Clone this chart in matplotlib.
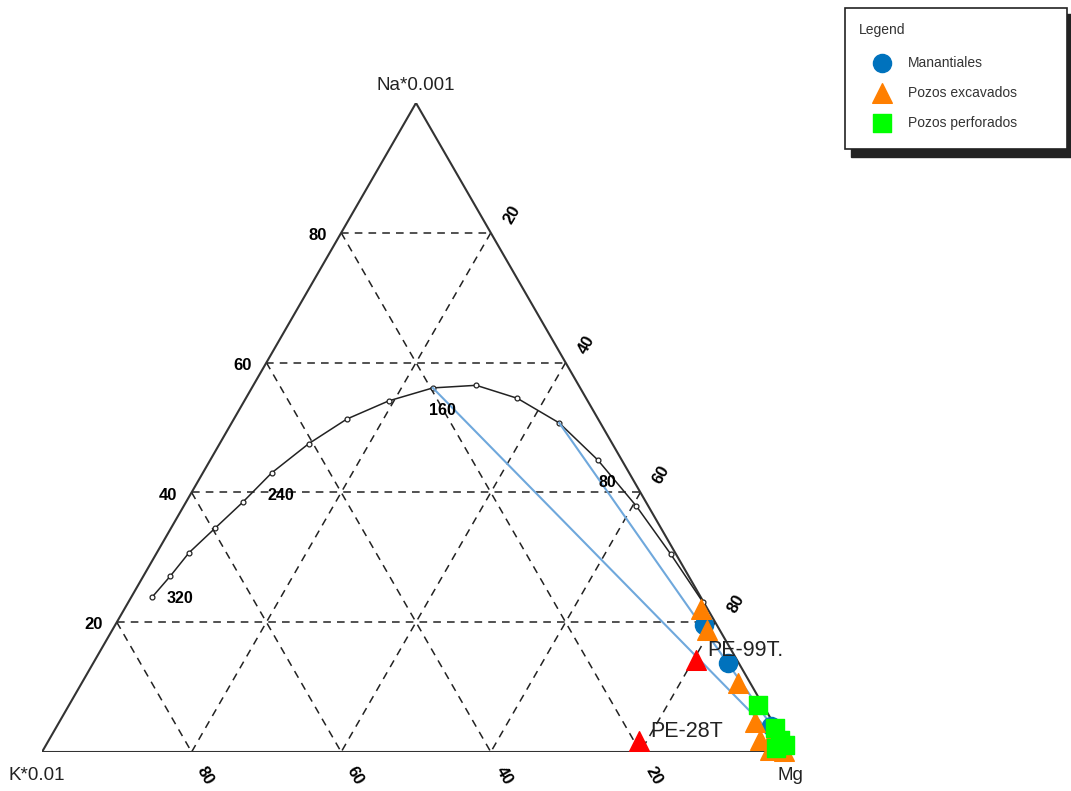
import numpy as np
import matplotlib.pyplot as plt
from matplotlib.patches import Rectangle

plt.rcParams['font.family'] = ['Liberation Sans', 'DejaVu Sans']

# ternary values in % : Na*0.001, K*0.01, sqrt(Mg)
# full equilibrium curve, one point every 20 C
curve_temp = [340, 320, 300, 280, 260, 240, 220, 200, 180, 160, 140, 120, 100, 80, 60, 40, 20]
curve_na = [23.9, 27.1, 30.7, 34.5, 38.5, 43.0, 47.5, 51.3, 54.1, 56.1, 56.5, 54.5, 50.7, 45.0, 37.9, 30.5, 23.1]
curve_k = [73.3, 69.3, 65.0, 59.6, 53.9, 47.8, 40.6, 33.6, 26.6, 19.7, 13.7, 9.2, 5.5, 3.2, 1.6, 0.7, 0.1]
curve_mg = [2.8, 3.6, 4.3, 5.9, 7.6, 9.2, 11.9, 15.1, 19.3, 24.2, 29.8, 36.3, 43.8, 51.8, 60.5, 68.8, 76.8]
temp_labels = [320, 240, 160, 80]
mix_from = [160, 100]   # lines drawn from the curve to the Mg corner

# samples
man_na = [19.6, 13.7, 4.0, 1.5]
man_k = [1.7, 1.4, 0.5, 0.3]
man_mg = [78.7, 84.9, 95.5, 98.2]

exc_na = [22.0, 18.8, 10.6, 4.6, 2.6, 1.9, 0.3, 0.2]
exc_k = [0.9, 1.7, 1.6, 2.4, 1.0, 3.1, 2.5, 0.7]
exc_mg = [77.1, 79.5, 87.8, 93.0, 96.4, 95.0, 97.2, 99.1]

perf_na = [7.2, 3.7, 1.9, 0.6, 1.1]
perf_k = [0.7, 0.2, 0.4, 1.6, 0.1]
perf_mg = [92.1, 96.1, 97.7, 97.8, 98.8]

red_names = ['PE-99T.', 'PE-28T']
red_na = [14.2, 1.7]
red_k = [5.5, 19.3]
red_mg = [80.3, 79.0]

grid_vals = [20, 40, 60, 80]

H = np.sqrt(3) / 2


def to_xy(na, k, mg):
    na = np.asarray(na, float)
    k = np.asarray(k, float)
    mg = np.asarray(mg, float)
    tot = na + k + mg
    return (mg + na / 2) / tot, na * H / tot


fig = plt.figure(figsize=(10.71, 7.91), dpi=100)
W, Hpx = 1071, 791
ax = fig.add_axes([42 / W, 39 / Hpx, 748 / W, 649 / Hpx])
ax.set_xlim(0, 1)
ax.set_ylim(0, H)
ax.axis('off')

# dashed grid
dash = dict(color='#222222', lw=1.1, ls=(0, (5, 4)), zorder=1)
for v in grid_vals:
    w = 100 - v
    for p, q in [((v, w, 0), (v, 0, w)),      # Na const
                 ((w, v, 0), (0, v, w)),      # K const
                 ((w, 0, v), (0, w, v))]:     # Mg const
        xs, ys = to_xy([p[0], q[0]], [p[1], q[1]], [p[2], q[2]])
        ax.plot(xs, ys, **dash)

# triangle outline
tx, ty = to_xy([100, 0, 0, 100], [0, 100, 0, 0], [0, 0, 100, 0])
ax.plot(tx, ty, color='#333333', lw=1.5, zorder=2)

# tick labels
tick_kw = dict(fontsize=12, fontweight='bold', ha='center', va='center',
               textcoords='offset points', annotation_clip=False)
for v in grid_vals:
    ax.annotate(str(v), to_xy(v, 100 - v, 0), xytext=(-17, -2), **tick_kw)
    ax.annotate(str(v), to_xy(100 - v, 0, v), xytext=(15, 13), rotation=60, **tick_kw)
    ax.annotate(str(v), to_xy(0, v, 100 - v), xytext=(10, -17), rotation=-60, **tick_kw)

title_kw = dict(textcoords='offset points', ha='center', va='center', fontsize=13.5,
                color='#222222', annotation_clip=False)
ax.annotate('Na*0.001', to_xy(100, 0, 0), xytext=(0, 12.5), **title_kw)
ax.annotate('K*0.01', to_xy(0, 100, 0), xytext=(-4, -17), **title_kw)
ax.annotate('Mg', to_xy(0, 0, 100), xytext=(0, -17), **title_kw)

# equilibrium curve
cx, cy = to_xy(curve_na, curve_k, curve_mg)
ax.plot(cx, cy, color='#222222', lw=1.1, marker='o', ms=3.5, mfc='white', mec='#222222',
        mew=0.9, zorder=3)
for t in temp_labels:
    i = curve_temp.index(t)
    ax.annotate(str(t), (cx[i], cy[i]), xytext=(7, -16), textcoords='offset points',
                ha='center', va='center', fontsize=11.5, fontweight='bold', zorder=6)

# lines to the Mg corner
for t in mix_from:
    i = curve_temp.index(t)
    ax.plot([cx[i], 1.0], [cy[i], 0.0], color='#6fa8dc', lw=1.5, zorder=4)

# samples
mx, my = to_xy(man_na, man_k, man_mg)
ax.scatter(mx, my, s=170, marker='o', color='#0072bd', zorder=5, clip_on=False)
ex, ey = to_xy(exc_na, exc_k, exc_mg)
ax.scatter(ex, ey, s=200, marker='^', color='#ff7f00', zorder=5, clip_on=False)
px_, py_ = to_xy(perf_na, perf_k, perf_mg)
ax.scatter(px_, py_, s=170, marker='s', color='#00ff00', zorder=5, clip_on=False)
rx, ry = to_xy(red_na, red_k, red_mg)
ax.scatter(rx, ry, s=200, marker='^', color='#ff0000', zorder=5, clip_on=False)
for name, x, y in zip(red_names, rx, ry):
    ax.annotate(name, (x, y), xytext=(8, 7), textcoords='offset points', ha='left',
                va='center', fontsize=15.5, color='#222222', zorder=6)

# legend box with drop shadow
lg = fig.add_axes([0, 0, 1, 1], facecolor='none')
lg.set_xlim(0, W)
lg.set_ylim(Hpx, 0)
lg.axis('off')
lg.add_patch(Rectangle((851, 14), 220, 143, color='#222222', zorder=1))
lg.add_patch(Rectangle((845, 8), 222, 141, facecolor='white', edgecolor='#222222',
                       lw=1.2, zorder=2))
leg_font = dict(fontsize=10, color='#333333', va='center', zorder=3)
lg.text(859, 30, 'Legend', **leg_font)
entries = [('o', '#0072bd', 'Manantiales', 170),
           ('^', '#ff7f00', 'Pozos excavados', 200),
           ('s', '#00ff00', 'Pozos perforados', 170)]
for j, (mk, col, lab, sz) in enumerate(entries):
    yy = 63 + 30 * j
    lg.scatter([882], [yy], marker=mk, s=sz, color=col, zorder=3)
    lg.text(908, yy, lab, **leg_font)

fig.savefig('out.png', dpi=100)
